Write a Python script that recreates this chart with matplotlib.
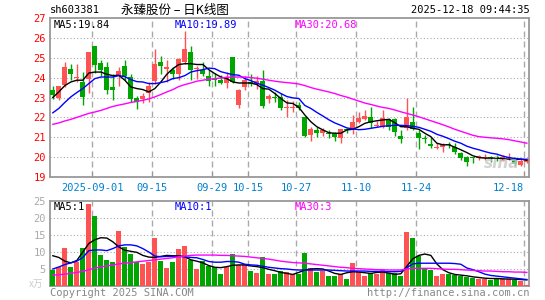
import numpy as np
import matplotlib
matplotlib.use("Agg")
import matplotlib.pyplot as plt

# daily candles, 80 trading days ending 2025-12-18
opens = [23.37, 22.95, 23.62, 24.45, 23.97, 23.80, 23.95, 25.58, 24.73, 24.53,
         23.53, 24.07, 24.57, 24.03, 22.95, 22.90, 23.23, 23.83, 24.78, 24.42,
         24.37, 24.20, 24.80, 25.30, 24.45, 24.37, 24.07, 23.92, 23.90, 23.73,
         25.03, 22.60, 23.53, 23.78, 23.70, 23.83, 22.90, 23.03, 23.03, 22.48,
         22.48, 22.62, 22.00, 21.12, 21.37, 21.20, 21.22, 21.20, 20.95, 21.42,
         21.37, 21.78, 21.92, 22.00, 21.58, 21.53, 21.90, 21.90, 21.07, 21.45,
         21.77, 21.20, 20.93, 20.67, 20.48, 20.50, 20.65, 20.53, 20.23, 20.00,
         20.00, 19.97, 19.98, 19.97, 19.97, 19.83, 19.95, 19.98, 19.58, 19.73]
highs = [23.56, 23.60, 24.78, 24.67, 24.70, 24.28, 25.31, 25.60, 24.90, 24.78,
         24.20, 24.53, 24.87, 24.20, 23.10, 23.23, 23.78, 25.45, 25.07, 24.87,
         24.53, 25.00, 26.37, 25.60, 24.60, 24.78, 24.37, 24.25, 24.15, 24.28,
         25.03, 23.42, 24.10, 24.20, 24.10, 24.40, 23.20, 23.28, 23.25, 22.87,
         22.83, 22.78, 22.00, 21.53, 21.53, 21.48, 21.37, 21.28, 21.43, 21.45,
         22.10, 22.28, 22.37, 22.50, 21.83, 22.37, 21.95, 21.95, 21.37, 22.95,
         22.50, 21.37, 21.10, 21.00, 20.70, 20.70, 20.78, 20.70, 20.28, 20.07,
         20.03, 20.10, 20.17, 20.07, 20.10, 20.10, 20.20, 20.03, 19.90, 19.95]
lows = [22.90, 22.87, 23.53, 23.90, 23.78, 22.60, 23.23, 24.25, 24.10, 23.20,
        22.87, 23.56, 23.87, 22.78, 22.40, 22.70, 22.78, 23.70, 24.20, 23.78,
        23.95, 23.90, 24.70, 23.87, 23.95, 24.10, 23.60, 23.60, 23.70, 23.50,
        23.75, 22.48, 23.37, 23.60, 23.45, 22.48, 22.73, 22.78, 22.37, 22.03,
        22.28, 22.37, 21.00, 20.83, 21.03, 21.05, 20.98, 20.80, 20.70, 21.20,
        21.17, 21.70, 21.87, 21.45, 21.50, 21.45, 21.37, 21.07, 20.70, 21.37,
        21.35, 20.40, 20.72, 20.45, 20.40, 20.28, 20.45, 20.17, 19.87, 19.53,
        19.70, 19.87, 19.87, 19.73, 19.78, 19.78, 19.87, 19.53, 19.53, 19.70]
closes = [23.12, 23.56, 24.53, 24.17, 24.00, 23.03, 25.31, 24.65, 24.37, 23.40,
          23.37, 24.33, 24.07, 22.92, 22.78, 23.06, 23.57, 24.70, 24.58, 24.53,
          24.17, 24.95, 25.45, 24.40, 24.50, 24.20, 23.85, 23.88, 23.73, 24.03,
          23.78, 23.37, 23.90, 23.70, 23.82, 22.57, 23.07, 22.95, 22.45, 22.52,
          22.52, 22.45, 21.08, 21.40, 21.20, 21.37, 21.18, 21.00, 21.40, 21.38,
          21.78, 21.95, 22.07, 21.70, 21.62, 21.95, 21.53, 21.28, 20.90, 22.00,
          21.40, 20.95, 20.90, 20.57, 20.50, 20.60, 20.63, 20.28, 19.95, 19.73,
          19.95, 20.05, 20.02, 19.95, 19.95, 20.03, 20.03, 19.67, 19.83, 19.90]

ma5 = [23.00, 23.28, 23.60, 23.78, 23.87, 23.87, 24.23, 24.28, 24.28, 24.17,
       24.10, 24.12, 23.87, 23.53, 23.45, 23.40, 23.28, 23.45, 23.78, 24.17,
       24.45, 24.66, 24.70, 24.70, 24.66, 24.66, 24.40, 24.20, 24.03, 23.95,
       23.78, 23.73, 23.73, 23.73, 23.65, 23.45, 23.42, 23.20, 22.95, 22.73,
       22.70, 22.50, 22.12, 21.78, 21.53, 21.37, 21.23, 21.20, 21.20, 21.37,
       21.40, 21.53, 21.70, 21.78, 21.83, 21.87, 21.90, 21.73, 21.53, 21.53,
       21.45, 21.40, 21.20, 21.03, 20.70, 20.62, 20.62, 20.50, 20.37, 20.23,
       20.07, 19.98, 19.95, 19.95, 19.95, 19.92, 19.90, 19.87, 19.90, 19.84]
ma10 = [22.23, 22.45, 22.75, 23.03, 23.25, 23.45, 23.70, 23.95, 24.03, 24.03,
        24.03, 24.10, 24.05, 23.90, 23.80, 23.78, 23.70, 23.70, 23.75, 23.82,
        23.95, 24.00, 24.10, 24.28, 24.35, 24.40, 24.48, 24.45, 24.30, 24.22,
        24.15, 24.12, 23.95, 23.85, 23.72, 23.62, 23.50, 23.37, 23.20, 23.05,
        22.98, 22.95, 22.60, 22.45, 22.25, 22.07, 21.88, 21.72, 21.60, 21.47,
        21.42, 21.38, 21.40, 21.45, 21.50, 21.55, 21.58, 21.60, 21.60, 21.58,
        21.55, 21.50, 21.40, 21.30, 21.15, 21.05, 20.93, 20.80, 20.70, 20.55,
        20.45, 20.37, 20.28, 20.20, 20.15, 20.05, 19.98, 19.93, 19.90, 19.89]
ma30 = [21.65, 21.72, 21.82, 21.90, 22.00, 22.10, 22.20, 22.27, 22.35, 22.45,
        22.55, 22.62, 22.68, 22.75, 22.80, 22.86, 22.93, 23.03, 23.15, 23.28,
        23.40, 23.55, 23.65, 23.73, 23.82, 23.87, 23.92, 23.95, 23.98, 24.02,
        24.03, 24.03, 24.03, 24.00, 23.97, 23.92, 23.87, 23.82, 23.78, 23.75,
        23.72, 23.68, 23.60, 23.50, 23.42, 23.35, 23.28, 23.20, 23.10, 23.02,
        22.92, 22.82, 22.72, 22.65, 22.57, 22.50, 22.45, 22.37, 22.28, 22.20,
        22.12, 22.03, 21.93, 21.83, 21.73, 21.63, 21.52, 21.40, 21.30, 21.20,
        21.10, 21.03, 21.00, 20.97, 20.95, 20.92, 20.88, 20.82, 20.76, 20.70]

# volume in 万手
vols = [4.7, 5.5, 11.1, 5.7, 7.0, 11.1, 24.0, 20.5, 9.0, 7.6,
        7.1, 16.2, 11.4, 9.4, 7.2, 6.5, 7.2, 14.1, 7.4, 5.2,
        7.2, 10.8, 11.7, 7.7, 5.0, 7.4, 5.9, 5.7, 3.4, 5.7,
        9.4, 6.2, 6.6, 4.4, 3.7, 8.4, 3.4, 3.4, 4.5, 4.2,
        3.5, 3.4, 9.8, 5.4, 4.0, 4.4, 3.0, 2.8, 3.4, 2.2,
        6.7, 4.0, 3.0, 3.7, 3.4, 4.8, 3.7, 3.7, 3.0, 15.9,
        14.1, 8.7, 5.4, 4.8, 3.0, 3.4, 3.4, 3.2, 3.0, 2.6,
        2.4, 2.2, 2.0, 1.8, 2.0, 2.0, 2.0, 1.8, 1.4, 0.4]
vol_ma5 = [8.9, 8.4, 7.3, 6.8, 7.5, 10.0, 12.5, 13.6, 14.2, 14.1,
           13.0, 11.5, 10.5, 10.2, 9.9, 9.0, 8.5, 8.4, 8.7, 9.0,
           8.9, 8.9, 8.6, 7.7, 7.3, 6.8, 6.0, 5.5, 5.4, 5.7,
           6.1, 6.2, 6.2, 5.9, 5.7, 5.4, 4.9, 4.5, 4.0, 3.7,
           3.4, 4.0, 4.7, 5.0, 5.1, 5.0, 4.4, 3.7, 3.4, 3.9,
           4.2, 4.1, 3.9, 3.7, 4.0, 4.1, 3.8, 3.4, 3.6, 5.8,
           8.0, 9.0, 9.4, 9.0, 6.5, 4.8, 3.9, 3.4, 3.2, 3.0,
           2.7, 2.5, 2.3, 2.2, 2.2, 2.1, 2.05, 2.0, 1.9, 1.8]
vol_ma10 = [5.0, 5.6, 6.3, 6.8, 7.3, 8.4, 10.4, 10.6, 10.6, 10.4,
            11.0, 11.8, 12.1, 12.1, 11.8, 11.0, 10.0, 8.8, 8.6, 8.7,
            8.7, 8.7, 8.6, 8.4, 8.3, 7.8, 7.2, 7.0, 7.0, 7.2,
            7.2, 7.0, 6.4, 6.2, 6.1, 5.8, 5.5, 5.3, 5.1, 5.0,
            4.8, 4.7, 4.7, 4.7, 4.7, 4.7, 4.7, 4.6, 4.5, 4.4,
            4.4, 4.4, 4.4, 4.3, 4.3, 4.3, 4.2, 4.2, 4.3, 5.4,
            6.5, 6.7, 6.7, 6.7, 6.7, 6.7, 6.7, 6.6, 6.4, 5.3,
            4.8, 4.2, 3.5, 3.1, 2.9, 2.7, 2.5, 2.3, 2.1, 1.9]
vol_ma30 = [3.2, 3.3, 3.5, 3.7, 4.0, 4.3, 4.8, 5.3, 5.6, 5.9,
            6.2, 6.5, 6.7, 6.9, 7.1, 7.3, 7.5, 7.7, 7.9, 8.1,
            8.3, 8.6, 8.8, 9.0, 9.1, 9.1, 9.1, 9.1, 9.0, 9.0,
            8.9, 8.8, 8.7, 8.5, 8.3, 8.1, 7.9, 7.6, 7.3, 7.1,
            6.9, 6.8, 6.7, 6.5, 6.3, 6.1, 5.9, 5.7, 5.5, 5.4,
            5.2, 5.1, 5.0, 4.9, 4.8, 4.8, 4.7, 4.7, 4.7, 5.0,
            5.2, 5.2, 5.2, 5.2, 5.1, 5.0, 4.9, 4.9, 4.8, 4.7,
            4.6, 4.5, 4.4, 4.4, 4.3, 4.2, 4.2, 4.1, 4.1, 4.0]

date_idx = [7, 17, 27, 33, 41, 51, 61, 79]
date_labels = ['2025-09-01', '09-15', '09-29', '10-15', '10-27', '11-10', '11-24', '12-18']

RED = '#ff5252'
GREEN = '#00a600'
GRID = '#aaaaaa'
FRAME = '#999999'
MONO = 'DejaVu Sans Mono'

W, H = 545, 300
fig = plt.figure(figsize=(W / 100, H / 100), dpi=100)

def px_rect(l, t, r, b):
    return [l / W, 1 - b / H, (r - l) / W, (b - t) / H]

ax = fig.add_axes(px_rect(50, 18, 529, 177))
axv = fig.add_axes(px_rect(50, 201, 529, 286))

x = np.arange(len(closes))
o = np.array(opens); c = np.array(closes)
up = c >= o
cols = [RED if u else GREEN for u in up]

# price panel
ax.vlines(x, lows, highs, colors=cols, linewidth=1.0, zorder=3)
body_lo = np.minimum(o, c)
body_h = np.maximum(np.abs(c - o), 0.05)
ax.bar(x, body_h, bottom=body_lo, width=0.82, color=cols, linewidth=0, zorder=4)
ax.plot(x, ma5, color='black', lw=1.0, zorder=5)
ax.plot(x, ma10, color='#0000ff', lw=1.0, zorder=5)
ax.plot(x, ma30, color='#ff00ff', lw=1.0, zorder=5)

# volume panel
axv.bar(x, vols, width=0.82, color=cols, linewidth=0, zorder=3)
axv.plot(x, vol_ma5, color='black', lw=1.0, zorder=5)
axv.plot(x, vol_ma10, color='#0000ff', lw=1.0, zorder=5)
axv.plot(x, vol_ma30, color='#ff00ff', lw=1.0, zorder=5)

grid_x = [d - 0.42 for d in date_idx]
for a in (ax, axv):
    a.set_xlim(-0.47, 79.36)
    for gx in grid_x:
        a.axvline(gx, color=GRID, lw=1.0, ls=(0, (4.3, 2.9)), zorder=1)
    for s in a.spines.values():
        s.set_color(FRAME)
        s.set_linewidth(1.3)

ax.set_ylim(19, 27)
for gy in range(20, 27):
    ax.axhline(gy, color=GRID, lw=0.8, ls=(0, (1, 2)), zorder=1)
ax.set_yticks(range(19, 28))
ax.set_yticklabels([str(v) for v in range(19, 28)], color='#ff0000', family=MONO, fontsize=7.5)
ax.tick_params(axis='y', length=0, pad=3)
ax.set_xticks(grid_x)
ax.set_xticklabels(date_labels, color='#0080d0', family=MONO, fontsize=7.5)
ax.tick_params(axis='x', direction='in', length=4, color=FRAME, pad=4)
last = ax.get_xticklabels()[-1]
last.set_ha('right')

axv.set_ylim(0, 25)
for gy in (5, 10, 15, 20):
    axv.axhline(gy, color=GRID, lw=0.8, ls=(0, (1, 2)), zorder=1)
axv.set_yticks([5, 10, 15, 20, 25])
axv.set_yticklabels(['5', '10', '15', '20', '25'], color='#aaaaaa', family=MONO, fontsize=7.5)
axv.tick_params(axis='y', length=0, pad=3)
axv.set_xticks([])

def ptext(px, py, s, **kw):
    fig.text(px / W, 1 - py / H, s, va='center', **kw)

ptext(50, 10, 'sh603381', family=MONO, fontsize=7.5, color='black')
ptext(121, 10, '永臻股份 – 日K线图', family=['Noto Sans CJK SC', 'DejaVu Sans'], fontsize=9, color='black')
ptext(530, 10, '2025-12-18 09:44:35', family=MONO, fontsize=7.5, color='black', ha='right')

ptext(54, 25, 'MA5:19.84', family=MONO, fontsize=7.5, color='black')
ptext(175, 25, 'MA10:19.89', family=MONO, fontsize=7.5, color='#0000ff')
ptext(295, 25, 'MA30:20.68', family=MONO, fontsize=7.5, color='#ff00ff')

ptext(54, 207, 'MA5:1', family=MONO, fontsize=7.5, color='black')
ptext(175, 207, 'MA10:1', family=MONO, fontsize=7.5, color='#0000ff')
ptext(295, 207, 'MA30:3', family=MONO, fontsize=7.5, color='#ff00ff')

ptext(29, 284, 'x万', family=['Noto Sans CJK SC', 'DejaVu Sans'], fontsize=7, color='#cccccc')
ptext(50, 293, 'Copyright 2025 SINA.COM', family=MONO, fontsize=7.5, color='#888888')
ptext(529, 293, 'http://finance.sina.com.cn', family=MONO, fontsize=7.5, color='#888888', ha='right')

# faint sina watermark
ptext(502, 163, 'sina', family='DejaVu Sans', fontsize=11, fontweight='bold', style='italic',
      color='#c8c8c8', ha='center', alpha=0.8, zorder=10)

fig.savefig('out.png', dpi=100)
